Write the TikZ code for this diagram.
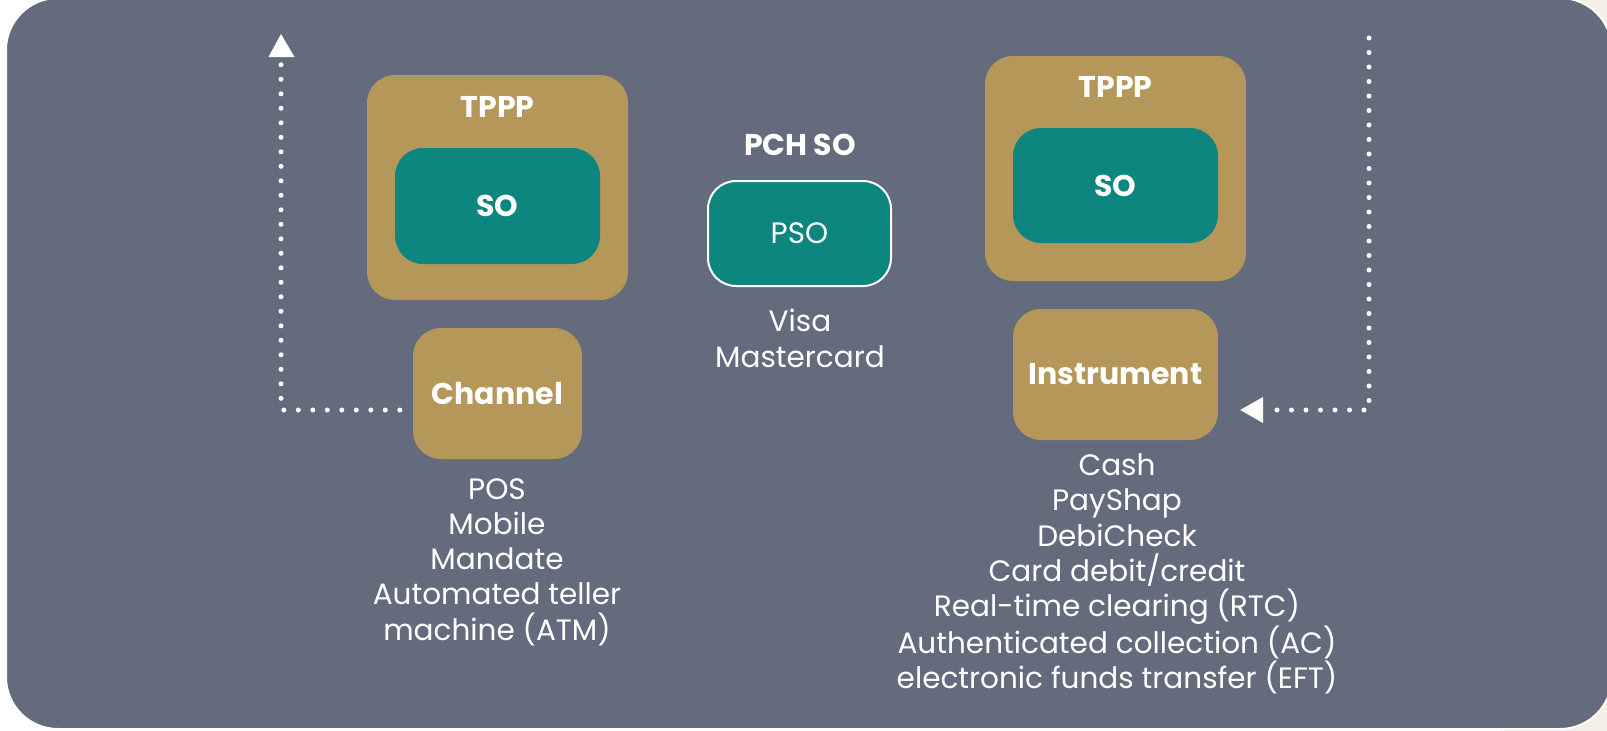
\documentclass[tikz,border=0pt]{standalone}
\usepackage{fontspec}
\setmainfont{Poppins}
\usetikzlibrary{arrows.meta}
\definecolor{slate}{HTML}{636B7D}
\definecolor{gold}{HTML}{B5975A}
\definecolor{teal}{HTML}{0E8680}
\definecolor{cream}{HTML}{F3EFE6}
\tikzset{
  goldbox/.style={rectangle, rounded corners=28pt, fill=gold, inner sep=0pt},
  tealbox/.style={rectangle, rounded corners=28pt, fill=teal, inner sep=0pt},
  lbl/.style={text=white, font=\fontsize{29.5}{35.3}\selectfont, inner sep=0pt, align=center},
  blbl/.style={text=white, font=\fontsize{30}{35}\selectfont\bfseries, inner sep=0pt, align=center},
  dotline/.style={white, line width=5pt, line cap=round, dash pattern=on 0pt off 14.5pt},
}
\begin{document}
\begin{tikzpicture}[x=1pt,y=-1pt]
\useasboundingbox (0,0) rectangle (1607,731);
\fill[white] (0,0) rectangle (1607,731);
\fill[cream] (1500,0) rectangle (1607,731);
\fill[slate, draw=white, line width=2pt, rounded corners=52pt] (6,-2) rectangle (1612,729);

% left group
\node[goldbox, minimum width=261pt, minimum height=225pt] (tpppL) at (497.5,187.5) {};
\node[blbl] (tpppLt) at (497.5,107) {TPPP};
\node[tealbox, minimum width=205pt, minimum height=116pt, blbl] (soL) at (497.5,206) {SO};
\node[goldbox, minimum width=169pt, minimum height=131pt, blbl] (chan) at (497.5,393.5) {Channel};
\node[lbl] (chanlist) at (497,562) {POS\\Mobile\\Mandate\\Automated teller\\machine (ATM)};

% middle
\node[blbl] (pch) at (800,145) {PCH SO};
\node[tealbox, draw=white, line width=2pt, minimum width=183pt, minimum height=105pt, lbl] (pso) at (799.5,233.5) {PSO};
\node[lbl] (psolist) at (800,338.5) {Visa\\Mastercard};

% right group
\node[goldbox, minimum width=261pt, minimum height=225pt] (tpppR) at (1115.5,168.5) {};
\node[blbl] (tpppRt) at (1115.5,87) {TPPP};
\node[tealbox, minimum width=205pt, minimum height=115pt, blbl] (soR) at (1115.5,185.5) {SO};
\node[goldbox, minimum width=205pt, minimum height=131pt, blbl] (instr) at (1115.5,374.5) {Instrument};
\node[lbl] (instrlist) at (1117,574) {Cash\\PayShap\\DebiCheck\\Card debit/credit\\Real-time clearing (RTC)\\Authenticated collection (AC)\\electronic funds transfer (EFT)};

% connectors
\coordinate (Lstart) at ([xshift=-13pt]chan.west);
\coordinate (Lcorner) at (281,410);
\coordinate (Ltop) at (281,57);
\coordinate (Ltip) at (281,34);
\draw[dotline] (Lstart |- Lcorner) -- (Lcorner) -- (Ltop);
\fill[white] (Ltip) -- (268.5,57) -- (294.5,57) -- cycle;

\coordinate (Rtop) at (1369,38);
\coordinate (Rcorner) at (1369,410);
\coordinate (Rend) at (1263,410);
\coordinate (Rtip) at ([xshift=22pt]instr.east |- Rcorner);
\draw[dotline] (Rtop) -- (Rcorner) -- (Rend);
\fill[white] (Rtip) -- (1263,397) -- (1263,423) -- cycle;
\end{tikzpicture}
\end{document}
